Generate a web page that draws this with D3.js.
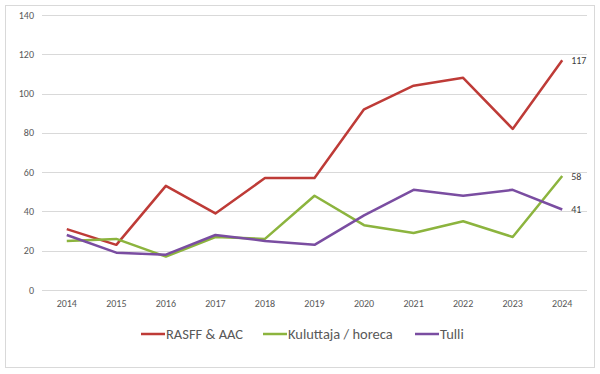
<!DOCTYPE html>
<html>
<head>
<meta charset="utf-8">
<script src="https://cdn.jsdelivr.net/npm/d3@7"></script>
<style>
  body { margin: 0; background: #fff; }
  svg text { font-family: Calibri, Carlito, "Liberation Sans", sans-serif; }
</style>
</head>
<body>
<svg id="viz" width="600" height="374"></svg>
<script>
var years = [2014, 2015, 2016, 2017, 2018, 2019, 2020, 2021, 2022, 2023, 2024];
var rasff = [31, 23, 53, 39, 57, 57, 92, 104, 108, 82, 117];
var kuluttaja = [25, 26, 17, 27, 26, 48, 33, 29, 35, 27, 58];
var tulli = [28, 19, 18, 28, 25, 23, 38, 51, 48, 51, 41];
var yTicks = [0, 20, 40, 60, 80, 100, 120, 140];

var series = [
  {name: 'RASFF & AAC', values: rasff, color: '#BE3B37'},
  {name: 'Kuluttaja / horeca', values: kuluttaja, color: '#8CB43E'},
  {name: 'Tulli', values: tulli, color: '#7A4DA1'}
];

var viz = d3.select('#viz');

// outer frame
viz.append('rect')
  .attr('x', 5.5).attr('y', 5.5)
  .attr('width', 589).attr('height', 362)
  .attr('fill', '#fff').attr('stroke', '#d9d9d9');

var x = d3.scalePoint().domain(years).range([42, 587]).padding(0.5);
var y = d3.scaleLinear().domain([0, 140]).range([290, 15]);

// grid
viz.append('g').selectAll('line')
  .data(yTicks)
  .join('line')
  .attr('x1', 42).attr('x2', 587)
  .attr('y1', function(d) { return Math.round(y(d)) + 0.5; })
  .attr('y2', function(d) { return Math.round(y(d)) + 0.5; })
  .attr('stroke', '#d9d9d9').attr('stroke-width', 1);

// y labels
viz.append('g').selectAll('text')
  .data(yTicks)
  .join('text')
  .attr('x', 34)
  .attr('y', function(d) { return y(d); })
  .attr('dy', '0.35em')
  .attr('text-anchor', 'end')
  .attr('font-size', 10)
  .attr('fill', '#595959')
  .text(function(d) { return d; });

// x labels
viz.append('g').selectAll('text')
  .data(years)
  .join('text')
  .attr('x', function(d) { return x(d); })
  .attr('y', 307)
  .attr('text-anchor', 'middle')
  .attr('font-size', 10)
  .attr('fill', '#595959')
  .text(function(d) { return d; });

var line = d3.line()
  .x(function(d, i) { return x(years[i]); })
  .y(function(d) { return y(d); });

series.forEach(function(s) {
  viz.append('path')
    .datum(s.values)
    .attr('d', line)
    .attr('fill', 'none')
    .attr('stroke', s.color)
    .attr('stroke-width', 2.5)
    .attr('stroke-linejoin', 'round');
  var last = s.values[s.values.length - 1];
  viz.append('text')
    .attr('x', x(years[years.length - 1]) + 9)
    .attr('y', y(last))
    .attr('dy', '0.35em')
    .attr('font-size', 10)
    .attr('fill', '#404040')
    .text(last);
});

// legend
var legendX = [141, 263, 415];
series.forEach(function(s, i) {
  var g = viz.append('g').attr('transform', 'translate(' + legendX[i] + ',334)');
  g.append('line')
    .attr('x1', 0).attr('x2', 24)
    .attr('stroke', s.color).attr('stroke-width', 2.5);
  g.append('text')
    .attr('x', 25).attr('dy', '0.35em')
    .attr('font-size', 14.5)
    .attr('fill', '#595959')
    .text(s.name);
});
</script>
</body>
</html>
